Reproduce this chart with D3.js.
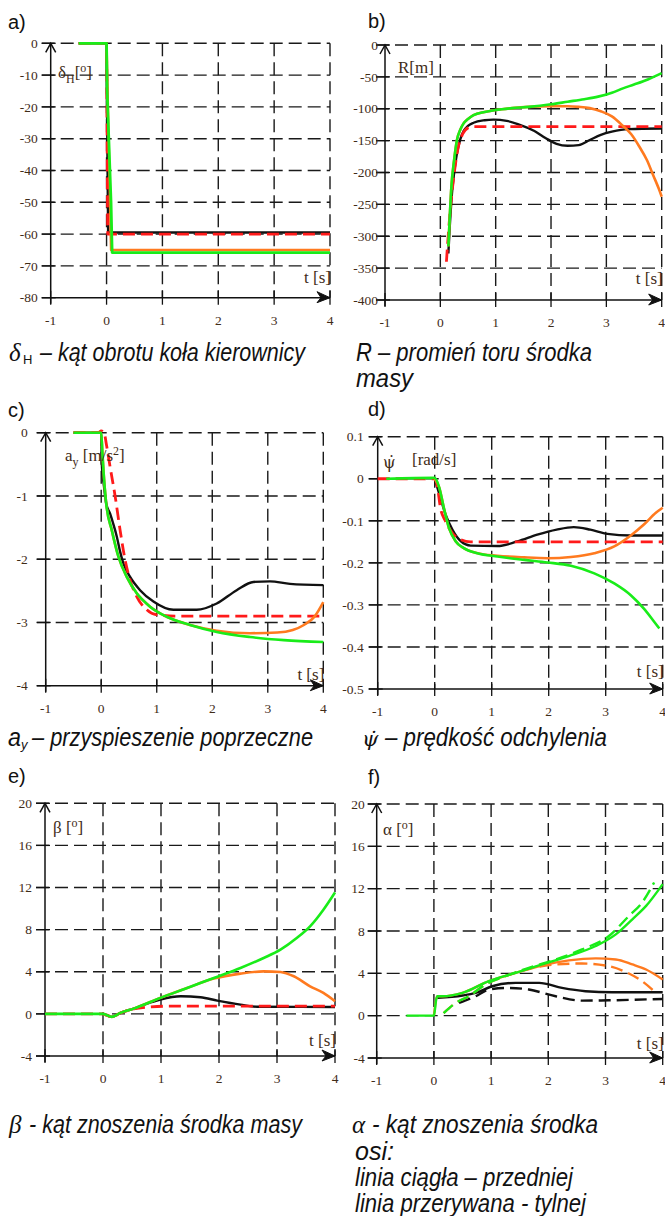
<!DOCTYPE html>
<html>
<head>
<meta charset="utf-8">
<script src="https://cdn.jsdelivr.net/npm/d3@7"></script>
<style>
  body { margin: 0; background: #fff; }
  text { font-family: "Liberation Serif", "Times New Roman", serif; }
  .tick-label { font-size: 13.5px; fill: #3f2c18; }
  .axis-label { font-size: 17px; fill: #3f2c18; }
  .letter { font-family: "Liberation Sans", Arial, sans-serif; font-size: 20px; fill: #111; }
  .caption { font-family: "Liberation Sans", Arial, sans-serif; font-style: italic; font-size: 25px; fill: #111; }
  .symbol { font-family: "Liberation Serif", serif; font-style: italic; font-size: 25px; fill: #111; }
</style>
</head>
<body>
<svg id="chart" width="665" height="1216"></svg>
<script>
// ---------- data ----------
const T_TICKS = [-1, 0, 1, 2, 3, 4]

const A_TICKS = [0, -10, -20, -30, -40, -50, -60, -70, -80]
const B_TICKS = [0, -50, -100, -150, -200, -250, -300, -350, -400]
const C_TICKS = [0, -1, -2, -3, -4]
const D_TICKS = [0.1, 0, -0.1, -0.2, -0.3, -0.4, -0.5]
const E_TICKS = [20, 16, 12, 8, 4, 0, -4]

// a) steering wheel angle [deg]
const A_BLACK = [[-0.5, 0], [0, 0], [0.03, -59.5], [4, -59.5]]
const A_RED = [[-0.5, 0], [0, 0], [0.02, -60], [4, -60]]
const A_ORANGE = [[-0.5, 0], [0, 0], [0.08, -65], [4, -65]]
const A_GREEN = [[-0.5, 0], [0, 0], [0.01, -15], [0.05, -35], [0.08, -50], [0.1, -65.8], [4, -65.8]]

// b) path radius [m]
const B_BLACK = [[0.145, -327], [0.17, -285], [0.2, -243], [0.25, -200], [0.3, -170], [0.36, -148], [0.42, -135], [0.5, -127], [0.6, -122], [0.8, -118], [0.96, -117], [1.2, -119], [1.4, -124], [1.7, -135], [1.9, -146], [2.1, -155], [2.3, -158], [2.5, -157], [2.7, -149], [2.9, -141], [3.1, -136], [3.4, -132], [4, -131]]
const B_RED = [[0.11, -340], [0.15, -290], [0.2, -240], [0.26, -195], [0.32, -162], [0.4, -140], [0.5, -130], [0.6, -128], [4, -128]]
const B_ORANGE = [[0.145, -316], [0.17, -270], [0.2, -222], [0.25, -180], [0.3, -149], [0.36, -133], [0.42, -123], [0.5, -116], [0.6, -110], [0.8, -105], [1.0, -102], [1.3, -99], [1.6, -97], [2.0, -96], [2.3, -96], [2.5, -97], [2.7, -99], [2.9, -104], [3.1, -112], [3.3, -127], [3.45, -140], [3.6, -160], [3.73, -180], [3.85, -205], [3.95, -226], [4, -238]]
const B_GREEN = [[0.145, -316], [0.17, -270], [0.2, -222], [0.25, -180], [0.3, -149], [0.36, -133], [0.42, -123], [0.5, -116], [0.6, -110], [0.8, -105], [1.0, -102], [1.3, -99], [1.6, -97], [2.0, -93], [2.3, -89], [2.6, -85], [2.85, -81], [3.1, -75], [3.3, -68], [3.5, -62], [3.75, -54], [4, -44]]

// c) lateral acceleration [m/s2]
const C_BLACK = [[-0.5, 0], [0, 0], [0.01, -0.48], [0.05, -0.85], [0.09, -1.12], [0.16, -1.28], [0.22, -1.45], [0.28, -1.64], [0.34, -1.88], [0.4, -2.07], [0.52, -2.28], [0.7, -2.49], [0.94, -2.67], [1.3, -2.8], [1.72, -2.8], [2.08, -2.7], [2.44, -2.49], [2.74, -2.36], [3.04, -2.35], [3.4, -2.39], [4, -2.41]]
const C_RED = [[-0.5, 0], [-0.05, 0], [0, 0.03], [0.05, 0], [0.1, -0.22], [0.16, -0.54], [0.25, -1.0], [0.34, -1.54], [0.43, -2.01], [0.52, -2.33], [0.64, -2.59], [0.82, -2.8], [1.0, -2.88], [1.4, -2.9], [4, -2.9]]
const C_ORANGE = [[-0.5, 0], [0, 0], [0.02, -0.3], [0.04, -0.59], [0.09, -1.12], [0.19, -1.54], [0.31, -1.96], [0.46, -2.28], [0.64, -2.54], [0.88, -2.75], [1.18, -2.91], [1.6, -3.04], [2.08, -3.13], [2.68, -3.17], [3.17, -3.16], [3.45, -3.12], [3.65, -3.04], [3.85, -2.9], [4, -2.68]]
const C_GREEN = [[-0.5, 0], [0, 0], [0.02, -0.3], [0.04, -0.59], [0.09, -1.12], [0.19, -1.54], [0.31, -1.96], [0.46, -2.28], [0.64, -2.54], [0.88, -2.75], [1.18, -2.91], [1.6, -3.04], [2.08, -3.15], [2.68, -3.23], [3.29, -3.28], [4, -3.31]]

// d) yaw rate [rad/s]
const D_BLACK = [[0, 0], [0.1, -0.045], [0.19, -0.085], [0.31, -0.121], [0.46, -0.149], [0.63, -0.159], [1.1, -0.16], [1.45, -0.149], [1.8, -0.133], [2.14, -0.121], [2.44, -0.115], [2.73, -0.121], [3.03, -0.131], [3.44, -0.135], [4, -0.135]]
const D_RED = [[-1, 0], [0, 0], [0.05, -0.021], [0.1, -0.069], [0.19, -0.101], [0.31, -0.129], [0.46, -0.145], [0.63, -0.15], [4, -0.15]]
const D_ORANGE = [[0, 0], [0.08, -0.021], [0.16, -0.069], [0.25, -0.117], [0.37, -0.149], [0.51, -0.165], [0.75, -0.177], [1.1, -0.183], [1.57, -0.187], [1.98, -0.189], [2.39, -0.186], [2.8, -0.177], [3.15, -0.161], [3.44, -0.135], [3.67, -0.109], [3.88, -0.081], [4, -0.069]]
const D_GREEN = [[-0.85, 0], [0, 0.002], [0.08, -0.021], [0.16, -0.069], [0.25, -0.117], [0.37, -0.149], [0.51, -0.165], [0.75, -0.177], [1.1, -0.185], [1.57, -0.193], [1.98, -0.199], [2.39, -0.207], [2.8, -0.225], [3.15, -0.249], [3.44, -0.277], [3.67, -0.309], [3.85, -0.34], [3.94, -0.356]]

// e) body slip angle [deg]
const E_BLACK = [[0, 0], [0.155, -0.28], [0.3, 0.1], [0.53, 0.5], [0.75, 0.95], [0.99, 1.36], [1.34, 1.67], [1.68, 1.58], [1.97, 1.26], [2.37, 0.88], [2.66, 0.68], [4, 0.66]]
const E_RED = [[-1, 0], [0, 0], [0.155, -0.28], [0.3, 0.09], [0.53, 0.47], [0.82, 0.66], [1.1, 0.73], [4, 0.73]]
const E_ORANGE = [[0, 0], [0.155, -0.28], [0.3, 0.1], [0.53, 0.5], [0.99, 1.52], [1.45, 2.46], [1.91, 3.35], [2.37, 3.82], [2.77, 4.04], [3.06, 3.98], [3.29, 3.57], [3.57, 2.62], [3.8, 1.99], [4, 1.2]]
const E_GREEN = [[-1, 0], [0, 0], [0.155, -0.28], [0.3, 0.1], [0.53, 0.5], [0.99, 1.52], [1.45, 2.46], [1.91, 3.41], [2.37, 4.36], [2.77, 5.31], [3.06, 6.1], [3.34, 7.2], [3.57, 8.31], [3.8, 9.89], [4, 11.53]]

// f) axle slip angles [deg], solid = front, dashed = rear
const F_BLACK = [[0.06, 1.68], [0.5, 1.9], [0.73, 2.15], [1.02, 2.78], [1.43, 3.1], [1.84, 3.1], [2.24, 2.62], [2.65, 2.31], [3.12, 2.21], [4, 2.21]]
const F_BLACK_REAR = [[0.44, 1.2], [0.73, 1.83], [0.96, 2.47], [1.31, 2.62], [1.66, 2.47], [2.13, 1.83], [2.59, 1.42], [3.06, 1.45], [4, 1.58]]
const F_ORANGE = [[0, 0], [0.06, 1.83], [0.15, 1.83], [0.5, 2.15], [0.96, 3.26], [1.43, 4.05], [1.89, 4.74], [2.36, 5.22], [2.83, 5.41], [3.18, 5.31], [3.47, 4.84], [3.71, 4.36], [4, 3.42]]
const F_ORANGE_REAR = [[0.17, 0.25], [0.38, 1.2], [0.61, 1.83], [0.9, 2.94], [1.25, 3.73], [1.66, 4.43], [2.13, 4.84], [2.59, 4.93], [3.06, 4.68], [3.41, 3.98], [3.64, 3.26], [3.85, 2.31]]
const F_GREEN = [[-0.48, 0], [0, 0], [0.04, 1.5], [0.06, 1.83], [0.15, 1.83], [0.5, 2.15], [0.96, 3.26], [1.43, 4.05], [1.89, 4.84], [2.36, 5.63], [2.83, 6.58], [3.18, 7.68], [3.47, 9.11], [3.71, 10.37], [4, 12.43]]
const F_GREEN_REAR = [[0.17, 0.25], [0.38, 1.2], [0.61, 1.83], [0.9, 2.94], [1.25, 3.73], [1.66, 4.52], [2.13, 5.31], [2.59, 6.26], [3.06, 7.53], [3.41, 9.42], [3.64, 10.69], [3.85, 12.58]]

// ---------- styles ----------
const BLACK = "#111"
const RED = "#ff1a1a"
const ORANGE = "#ff7a1f"
const GREEN = "#19ec19"
const GRID_DASH = "13,6"

const PANELS = [
  {
    letter: "a)", letterX: 8, letterY: 29,
    x0: 50.7, x1: 330, yTop: 43.3, yBot: 297.7, yDomain: [-80, 0], yTicks: A_TICKS, tickGap: 13,
    tsY: 283, curve: d3.curveLinear,
    series: [
      { data: A_BLACK, color: BLACK, width: 2.6 },
      { data: A_RED, color: RED, width: 2.8, dash: "12,6" },
      { data: A_ORANGE, color: ORANGE, width: 2.4 },
      { data: A_GREEN, color: GREEN, width: 2.8 },
    ],
  },
  {
    letter: "b)", letterX: 368, letterY: 28,
    x0: 385, x1: 661.7, yTop: 45, yBot: 300, yDomain: [-400, 0], yTicks: B_TICKS, tickGap: 7,
    tsY: 284, curve: d3.curveMonotoneX,
    series: [
      { data: B_BLACK, color: BLACK, width: 2.4 },
      { data: B_RED, color: RED, width: 2.8, dash: "12,6" },
      { data: B_ORANGE, color: ORANGE, width: 2.6 },
      { data: B_GREEN, color: GREEN, width: 2.6 },
    ],
  },
  {
    letter: "c)", letterX: 8, letterY: 417,
    x0: 45.7, x1: 323.3, yTop: 432.7, yBot: 685.7, yDomain: [-4, 0], yTicks: C_TICKS, tickGap: 18,
    tsY: 680, curve: d3.curveMonotoneX,
    series: [
      { data: C_BLACK, color: BLACK, width: 2.4 },
      { data: C_RED, color: RED, width: 2.8, dash: "12,6" },
      { data: C_ORANGE, color: ORANGE, width: 2.6 },
      { data: C_GREEN, color: GREEN, width: 2.6 },
    ],
  },
  {
    letter: "d)", letterX: 368, letterY: 416,
    x0: 377.7, x1: 662.7, yTop: 436.7, yBot: 689, yDomain: [-0.5, 0.1], yTicks: D_TICKS, tickGap: 14,
    tsY: 677, curve: d3.curveMonotoneX,
    series: [
      { data: D_BLACK, color: BLACK, width: 2.4 },
      { data: D_RED, color: RED, width: 2.8, dash: "12,6" },
      { data: D_ORANGE, color: ORANGE, width: 2.6 },
      { data: D_GREEN, color: GREEN, width: 2.6 },
    ],
  },
  {
    letter: "e)", letterX: 8, letterY: 783,
    x0: 45, x1: 335, yTop: 803.3, yBot: 1056, yDomain: [-4, 20], yTicks: E_TICKS, tickGap: 13,
    tsY: 1046, curve: d3.curveMonotoneX,
    series: [
      { data: E_BLACK, color: BLACK, width: 2.4 },
      { data: E_RED, color: RED, width: 2.8, dash: "12,6" },
      { data: E_ORANGE, color: ORANGE, width: 2.6 },
      { data: E_GREEN, color: GREEN, width: 2.6 },
    ],
  },
  {
    letter: "f)", letterX: 368, letterY: 784,
    x0: 376.7, x1: 662.7, yTop: 804, yBot: 1058, yDomain: [-4, 20], yTicks: E_TICKS, tickGap: 12,
    tsY: 1049, curve: d3.curveMonotoneX,
    series: [
      { data: F_BLACK, color: BLACK, width: 2.4 },
      { data: F_BLACK_REAR, color: BLACK, width: 2.4, dash: "12,6" },
      { data: F_ORANGE, color: ORANGE, width: 2.4 },
      { data: F_ORANGE_REAR, color: ORANGE, width: 2.4, dash: "12,6" },
      { data: F_GREEN, color: GREEN, width: 2.4 },
      { data: F_GREEN_REAR, color: GREEN, width: 2.4, dash: "12,6" },
    ],
  },
]

const svg = d3.select("#chart")

const fmt = (v) => String(Math.round(v * 10) / 10)

function drawPanel(p) {
  const x = d3.scaleLinear([-1, 4], [p.x0, p.x1])
  const y = d3.scaleLinear(p.yDomain, [p.yBot, p.yTop])
  const g = svg.append("g")

  // horizontal dashed grid (all but the bottom axis)
  g.selectAll(".hgrid")
    .data(p.yTicks.filter((v) => v !== p.yDomain[0]))
    .join("line")
    .attr("x1", x(-1) - 9).attr("x2", x(4))
    .attr("y1", (d) => y(d)).attr("y2", (d) => y(d))
    .attr("stroke", "#1a1a1a").attr("stroke-width", 1.4)
    .attr("stroke-dasharray", GRID_DASH)

  // vertical dashed grid
  g.selectAll(".vgrid")
    .data(T_TICKS.filter((v) => v !== -1))
    .join("line")
    .attr("x1", (d) => x(d)).attr("x2", (d) => x(d))
    .attr("y1", y(p.yDomain[1])).attr("y2", y(p.yDomain[0]))
    .attr("stroke", "#1a1a1a").attr("stroke-width", 1.4)
    .attr("stroke-dasharray", GRID_DASH)

  // axes
  g.append("line")
    .attr("x1", x(-1)).attr("x2", x(-1))
    .attr("y1", y(p.yDomain[1])).attr("y2", y(p.yDomain[0]) + 6)
    .attr("stroke", "#111").attr("stroke-width", 1.5)
  g.append("line")
    .attr("x1", x(-1) - 9).attr("x2", x(4))
    .attr("y1", y(p.yDomain[0])).attr("y2", y(p.yDomain[0]))
    .attr("stroke", "#111").attr("stroke-width", 1.5)

  // y ticks
  g.selectAll(".ytick")
    .data(p.yTicks)
    .join("line")
    .attr("x1", x(-1) - 9).attr("x2", x(-1) + 5)
    .attr("y1", (d) => y(d)).attr("y2", (d) => y(d))
    .attr("stroke", "#111").attr("stroke-width", 1.3)

  // x ticks
  g.selectAll(".xtick")
    .data(T_TICKS)
    .join("line")
    .attr("x1", (d) => x(d)).attr("x2", (d) => x(d))
    .attr("y1", y(p.yDomain[0]) - 7).attr("y2", y(p.yDomain[0]) + 7)
    .attr("stroke", "#111").attr("stroke-width", 1.3)

  // arrows
  const ax = x(-1), ay = y(p.yDomain[1])
  g.append("path")
    .attr("d", `M${ax - 5},${ay + 9}L${ax},${ay}L${ax + 5},${ay + 9}`)
    .attr("fill", "none").attr("stroke", "#111").attr("stroke-width", 1.5)
  const bx = x(4), by = y(p.yDomain[0])
  g.append("path")
    .attr("d", `M${bx - 13},${by - 6}L${bx},${by}L${bx - 13},${by + 5}L${bx - 9},${by}Z`)
    .attr("fill", "#111").attr("stroke", "#111").attr("stroke-width", 1)

  // tick labels
  g.selectAll(".ylab")
    .data(p.yTicks)
    .join("text")
    .attr("class", "tick-label")
    .attr("x", x(-1) - p.tickGap)
    .attr("y", (d) => y(d))
    .attr("dy", "0.35em")
    .attr("text-anchor", "end")
    .text(fmt)
  g.selectAll(".xlab")
    .data(T_TICKS)
    .join("text")
    .attr("class", "tick-label")
    .attr("x", (d) => x(d))
    .attr("y", y(p.yDomain[0]) + 27)
    .attr("text-anchor", "middle")
    .text(fmt)

  // t [s]
  g.append("text")
    .attr("class", "axis-label")
    .attr("x", x(4) + 1).attr("y", p.tsY)
    .attr("text-anchor", "end")
    .text("t [s]")

  // panel letter
  svg.append("text").attr("class", "letter")
    .attr("x", p.letterX).attr("y", p.letterY).text(p.letter)

  // data lines
  const line = d3.line().x((d) => x(d[0])).y((d) => y(d[1])).curve(p.curve)
  g.selectAll(".series")
    .data(p.series)
    .join("path")
    .attr("d", (s) => line(s.data))
    .attr("fill", "none")
    .attr("stroke", (s) => s.color)
    .attr("stroke-width", (s) => s.width)
    .attr("stroke-dasharray", (s) => s.dash || null)
    .attr("stroke-linejoin", "round")
}

PANELS.forEach(drawPanel)

// ---------- axis titles ----------
function axisTitle(xPos, yPos, parts) {
  const t = svg.append("text").attr("class", "axis-label").attr("x", xPos).attr("y", yPos)
  parts.forEach((pt) => {
    const s = t.append("tspan").text(pt.text)
    if (pt.sub) s.attr("font-size", 12).attr("dy", 5)
    if (pt.sup) s.attr("font-size", 12).attr("dy", -6)
    if (pt.back) s.attr("dy", pt.back)
  })
  return t
}

axisTitle(58, 78, [{ text: "δ" }, { text: "H", sub: true }, { text: "[", back: -5 }, { text: "o", sup: true }, { text: "]", back: 6 }])
axisTitle(398, 73, [{ text: "R[m]" }])
axisTitle(65, 461, [{ text: "a" }, { text: "y", sub: true }, { text: " [m/s", back: -5 }, { text: "2", sup: true }, { text: "]", back: 6 }])
axisTitle(383, 468, [{ text: "ψ\u0307" }]).style("font-family", "'DejaVu Serif', serif").style("font-size", "16px")
axisTitle(412, 465, [{ text: "[rad/s]" }])
axisTitle(53, 833, [{ text: "β [" }, { text: "o", sup: true }, { text: "]", back: 6 }])
axisTitle(383, 835, [{ text: "α [" }, { text: "o", sup: true }, { text: "]", back: 6 }])

// ---------- captions ----------
function caption(xPos, yPos, str, endX) {
  const t = svg.append("text").attr("class", "caption").attr("x", xPos).attr("y", yPos).text(str)
  if (endX) t.attr("textLength", endX - xPos).attr("lengthAdjust", "spacingAndGlyphs")
  return t
}

svg.append("text").attr("class", "symbol").attr("x", 9).attr("y", 361).text("δ")
svg.append("text").attr("x", 23).attr("y", 364)
  .style("font-family", "'Liberation Sans', Arial, sans-serif").style("font-size", "13px").style("fill", "#111")
  .text("H")
caption(40, 361, "– kąt obrotu koła kierownicy", 305)

caption(356, 361, "R – promień toru środka", 592)
caption(356, 387, "masy", 413)

caption(8, 746, "a", 21)
svg.append("text").attr("x", 21).attr("y", 749)
  .style("font-family", "'Liberation Sans', Arial, sans-serif").style("font-style", "italic")
  .style("font-size", "13px").style("fill", "#111")
  .text("y")
caption(32, 746, "– przyspieszenie poprzeczne", 313)

svg.append("text").attr("x", 362).attr("y", 746)
  .style("font-family", "'DejaVu Serif', serif").style("font-style", "italic")
  .style("font-size", "21px").style("fill", "#111")
  .text("ψ\u0307")
caption(385, 746, "– prędkość odchylenia", 607)

svg.append("text").attr("class", "symbol").attr("x", 9).attr("y", 1133).text("β")
caption(29, 1133, "- kąt znoszenia środka masy", 302)

svg.append("text").attr("class", "symbol").attr("x", 352).attr("y", 1133).text("α")
caption(372, 1133, "- kąt znoszenia środka", 598)
caption(355, 1160, "osi:", 394)
caption(355, 1186, "linia ciągła – przedniej", 573)
caption(355, 1212, "linia przerywana - tylnej", 586)
</script>
</body>
</html>
